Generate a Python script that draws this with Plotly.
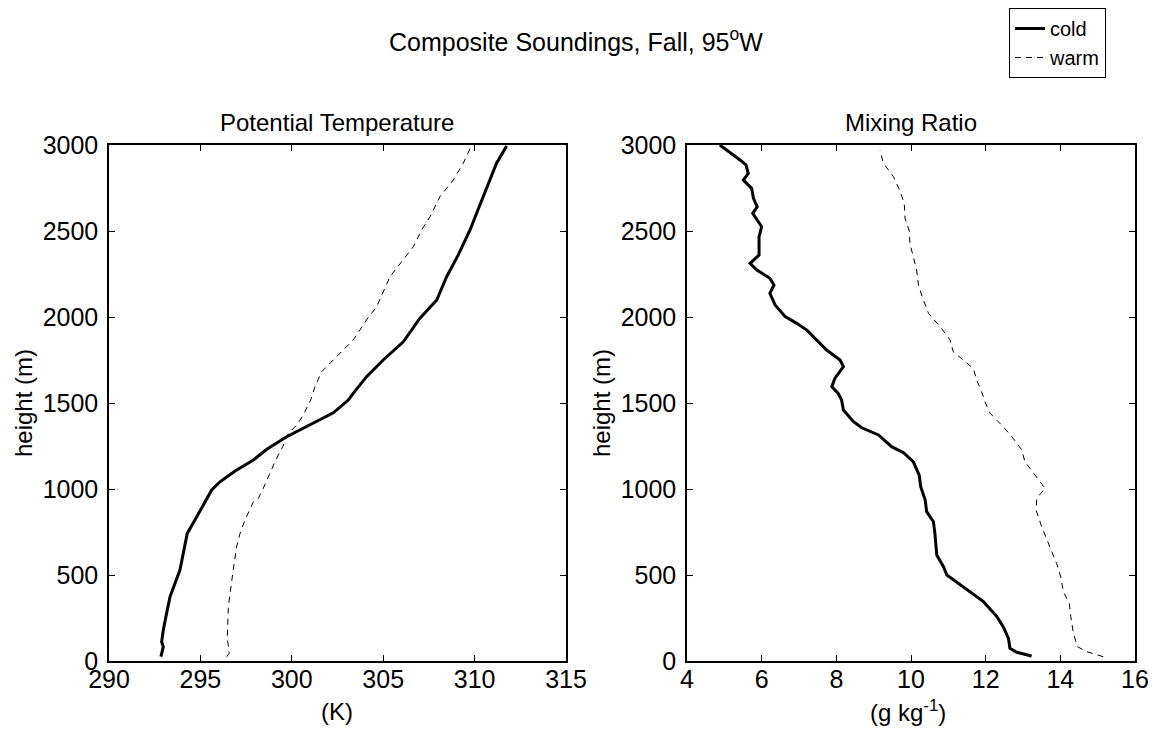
import plotly.graph_objects as go

# ---- data ----
theta_cold_T = [292.84, 292.97, 292.88, 292.97, 293.15, 293.34, 293.88, 294.07, 294.28, 294.7,
                295.34, 295.62, 296.07, 296.9, 297.9, 298.63, 299.72, 300.81, 302.27, 303.09,
                303.36, 304.09, 305.0, 306.1, 307.0, 307.93, 308.47, 309.1, 309.75, 310.11,
                310.75, 311.2, 311.75]
theta_cold_h = [25, 83, 112, 180, 277, 374, 529, 626, 742, 820,
                946, 994, 1042, 1105, 1169, 1231, 1304, 1362, 1443, 1517,
                1556, 1653, 1750, 1856, 1992, 2099, 2234, 2360, 2506, 2603,
                2778, 2894, 2994]

theta_warm_T = [296.44, 296.58, 296.47, 296.53, 296.77, 296.9, 296.98, 297.17, 297.44, 297.9,
                298.17, 298.44, 298.8, 299.08, 299.5, 299.81, 300.27, 300.63, 301.03, 301.27,
                301.63, 302.09, 302.64, 303.36, 304.09, 304.64, 305.37, 305.92, 306.65, 307.1,
                307.56, 308.1, 308.83, 309.38, 309.75, 309.8]
theta_warm_h = [25, 45, 132, 316, 510, 606, 664, 742, 820, 926,
                946, 1004, 1091, 1159, 1246, 1323, 1372, 1430, 1517, 1595,
                1682, 1731, 1789, 1866, 1983, 2060, 2234, 2312, 2409, 2506,
                2583, 2699, 2796, 2894, 2971, 2990]

mix_cold_q = [13.23, 12.83, 12.65, 12.61, 12.47, 12.3, 11.94, 11.58, 11.23, 10.96,
              10.87, 10.69, 10.64, 10.6, 10.42, 10.38, 10.26, 10.22, 10.06, 9.8,
              9.48, 9.13, 8.68, 8.46, 8.19, 8.14, 8.05, 7.88, 7.96, 8.19,
              8.1, 7.74, 7.21, 6.94, 6.63, 6.36, 6.22, 6.33, 6.22, 5.87,
              5.69, 5.93, 5.93, 6.0, 5.76, 5.88, 5.78, 5.73, 5.51, 5.64,
              5.58, 5.42, 4.88]
mix_cold_h = [29, 51, 74, 132, 200, 258, 345, 403, 461, 500,
              548, 616, 742, 810, 868, 936, 1013, 1081, 1159, 1211,
              1246, 1314, 1356, 1391, 1459, 1517, 1556, 1595, 1643, 1711,
              1750, 1808, 1924, 1963, 2002, 2070, 2138, 2186, 2225, 2273,
              2312, 2360, 2467, 2525, 2603, 2641, 2690, 2748, 2796, 2835,
              2884, 2913, 3000]

mix_warm_q = [15.15, 14.71, 14.46, 14.35, 14.28, 14.24, 14.08, 14.01, 13.9, 13.72,
              13.5, 13.35, 13.37, 13.59, 13.28, 13.05, 12.97, 12.74, 12.47, 12.12,
              11.98, 11.89, 11.76, 11.67, 11.4, 11.13, 11.05, 10.78, 10.47, 10.33,
              10.2, 10.15, 10.05, 9.97, 9.96, 9.84, 9.82, 9.71, 9.53, 9.26, 9.17]
mix_warm_h = [25, 54, 83, 161, 258, 335, 403, 490, 567, 664,
              781, 878, 946, 1004, 1091, 1159, 1226, 1294, 1362, 1440,
              1507, 1566, 1633, 1701, 1750, 1798, 1866, 1944, 2021, 2099,
              2186, 2273, 2360, 2428, 2496, 2574, 2661, 2729, 2816, 2894, 2970]

theta_ticks = [290, 295, 300, 305, 310, 315]
mix_ticks = [4, 6, 8, 10, 12, 14, 16]
height_ticks = [0, 500, 1000, 1500, 2000, 2500, 3000]

# ---- figure ----
W, H = 1156, 737
FONT = "Liberation Sans, Arial, Helvetica, sans-serif"

def px_x(p):
    return p / W

def px_y(p):
    return 1 - p / H

fig = go.Figure()

cold_line = dict(color="black", width=3)
warm_line = dict(color="black", width=1, dash="6px,5px")

fig.add_trace(go.Scatter(x=theta_cold_T, y=theta_cold_h, mode="lines", line=cold_line,
                         name="cold", xaxis="x", yaxis="y", showlegend=True))
fig.add_trace(go.Scatter(x=theta_warm_T, y=theta_warm_h, mode="lines", line=warm_line,
                         name="warm", xaxis="x", yaxis="y", showlegend=True))
fig.add_trace(go.Scatter(x=mix_cold_q, y=mix_cold_h, mode="lines", line=cold_line,
                         name="cold", xaxis="x2", yaxis="y2", showlegend=False))
fig.add_trace(go.Scatter(x=mix_warm_q, y=mix_warm_h, mode="lines", line=warm_line,
                         name="warm", xaxis="x2", yaxis="y2", showlegend=False))

ax_common = dict(showline=True, linecolor="black", linewidth=1.5, mirror="ticks",
                 ticks="inside", ticklen=6, tickcolor="black", tickwidth=1,
                 showgrid=False, zeroline=False, automargin=False,
                 tickfont=dict(family=FONT, size=25, color="black"))

y_dom = [px_y(661), px_y(145)]

fig.update_layout(
    width=W, height=H,
    margin=dict(l=0, r=0, t=0, b=0, autoexpand=False),
    paper_bgcolor="white", plot_bgcolor="white",
    font=dict(family=FONT, color="black"),
    xaxis=dict(domain=[px_x(109), px_x(566)], range=[290, 315], tickvals=theta_ticks,
               anchor="y", ticklabelstandoff=-5, **ax_common),
    yaxis=dict(domain=y_dom, range=[0, 3000], tickvals=height_ticks,
               anchor="x", ticklabelstandoff=4, **ax_common),
    xaxis2=dict(domain=[px_x(687), px_x(1135)], range=[4, 16], tickvals=mix_ticks,
                anchor="y2", ticklabelstandoff=-5, **ax_common),
    yaxis2=dict(domain=y_dom, range=[0, 3000], tickvals=height_ticks,
                anchor="x2", ticklabelstandoff=4, **ax_common),
    showlegend=True,
    legend=dict(x=px_x(1009), y=px_y(8), xanchor="left", yanchor="top",
                bordercolor="black", borderwidth=1, bgcolor="white",
                font=dict(family=FONT, size=20, color="black"),
                tracegroupgap=0, itemwidth=30),
)

ann = []
ann.append(dict(text="Composite Soundings, Fall, 95<sup>o</sup>W", x=px_x(576), y=px_y(40),
                xref="paper", yref="paper", showarrow=False,
                font=dict(family=FONT, size=25, color="black"), xanchor="center", yanchor="middle"))
ann.append(dict(text="Potential Temperature", x=px_x(337), y=px_y(122),
                xref="paper", yref="paper", showarrow=False,
                font=dict(family=FONT, size=24, color="black"), xanchor="center", yanchor="middle"))
ann.append(dict(text="Mixing Ratio", x=px_x(911), y=px_y(122),
                xref="paper", yref="paper", showarrow=False,
                font=dict(family=FONT, size=24, color="black"), xanchor="center", yanchor="middle"))
ann.append(dict(text="(K)", x=px_x(337), y=px_y(711),
                xref="paper", yref="paper", showarrow=False,
                font=dict(family=FONT, size=24, color="black"), xanchor="center", yanchor="middle"))
ann.append(dict(text="(g kg<sup>-1</sup>)", x=px_x(908), y=px_y(711),
                xref="paper", yref="paper", showarrow=False,
                font=dict(family=FONT, size=24, color="black"), xanchor="center", yanchor="middle"))
ann.append(dict(text="height (m)", x=px_x(24), y=px_y(403), textangle=-90,
                xref="paper", yref="paper", showarrow=False,
                font=dict(family=FONT, size=24, color="black"), xanchor="center", yanchor="middle"))
ann.append(dict(text="height (m)", x=px_x(602), y=px_y(403), textangle=-90,
                xref="paper", yref="paper", showarrow=False,
                font=dict(family=FONT, size=24, color="black"), xanchor="center", yanchor="middle"))
fig.update_layout(annotations=ann)

fig.write_html("out.html")
